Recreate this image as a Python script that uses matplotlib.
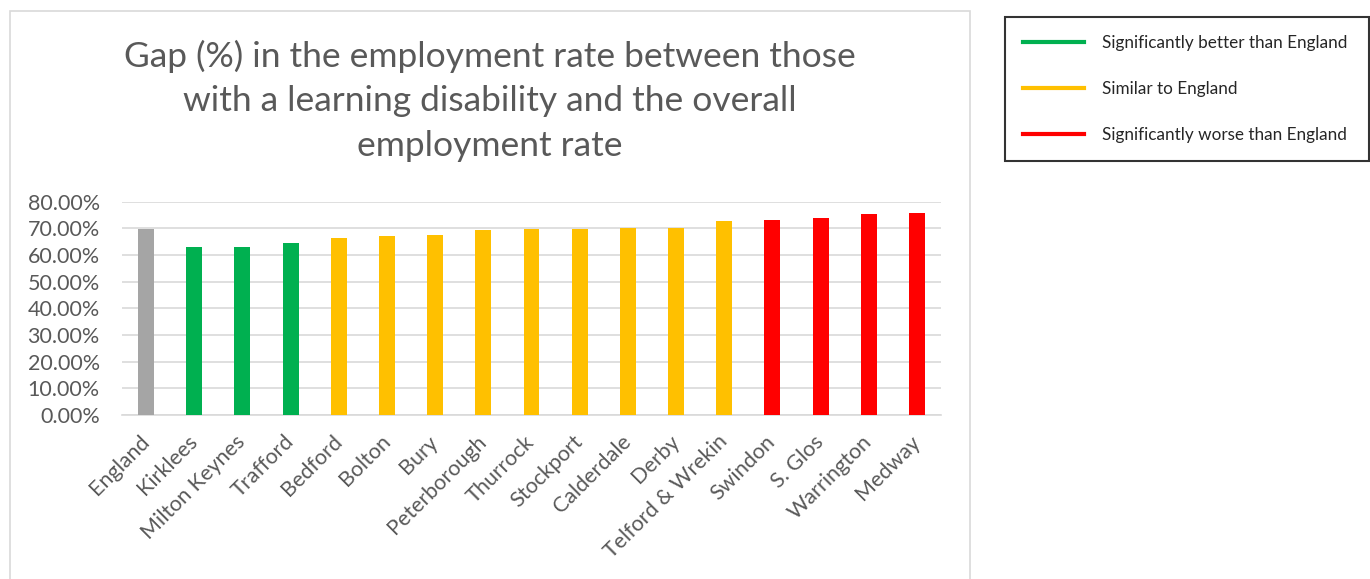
import matplotlib
matplotlib.use("Agg")
import matplotlib.pyplot as plt
from matplotlib.lines import Line2D
from matplotlib.patches import Rectangle
from matplotlib.ticker import PercentFormatter, MultipleLocator

plt.rcParams['font.family'] = ['Lato', 'DejaVu Sans']

# Employment rate gap by area (fraction), ordered low to high after England
areas = ["England", "Kirklees", "Milton Keynes", "Trafford", "Bedford", "Bolton",
         "Bury", "Peterborough", "Thurrock", "Stockport", "Calderdale", "Derby",
         "Telford & Wrekin", "Swindon", "S. Glos", "Warrington", "Medway"]
gap = [0.6975, 0.630, 0.630, 0.645, 0.664, 0.671, 0.675, 0.694, 0.6975,
       0.6975, 0.701, 0.701, 0.7275, 0.731, 0.739, 0.754, 0.7575]
# comparison with England: ref / better / similar / worse
status = ["ref", "better", "better", "better", "similar", "similar", "similar",
          "similar", "similar", "similar", "similar", "similar", "similar",
          "worse", "worse", "worse", "worse"]

colours = {"ref": "#a5a5a5", "better": "#00b050", "similar": "#ffc000", "worse": "#ff0000"}
legend_labels = {"better": "Significantly better than England",
                 "similar": "Similar to England",
                 "worse": "Significantly worse than England"}

W, H = 1370, 579
fig = plt.figure(figsize=(W / 100, H / 100), dpi=100)

# outer chart frame
fig.patches.append(Rectangle((10 / W, -0.05), 960 / W, 1.05 - 11 / H,
                             transform=fig.transFigure, fill=False,
                             edgecolor="#d9d9d9", linewidth=1.2))

ax = fig.add_axes([122 / W, 1 - 415 / H, 819 / W, 213.3 / H])
x = range(len(areas))
ax.bar(x, gap, width=0.33, color=[colours[s] for s in status], zorder=3)

ax.set_xlim(-0.5, len(areas) - 0.5)
ax.set_ylim(0, 0.8)
ax.yaxis.set_major_locator(MultipleLocator(0.1))
ax.yaxis.set_major_formatter(PercentFormatter(1.0, decimals=2))
ax.grid(axis="y", color="#d9d9d9", linewidth=1.2, zorder=0)
for side in ["top", "right", "left"]:
    ax.spines[side].set_visible(False)
ax.spines["bottom"].set_color("#d9d9d9")
ax.spines["bottom"].set_linewidth(1.2)
ax.tick_params(axis="both", length=0, labelsize=15.5, labelcolor="#595959")
ax.tick_params(axis="y", pad=16)
ax.set_xticks(list(x))
ax.set_xticklabels(areas, rotation=45, ha="right", va="center",
                   rotation_mode="anchor")
ax.tick_params(axis="x", pad=17)

fig.text(490 / W, 1 - 40 / H,
         "Gap (%) in the employment rate between those\n"
         "with a learning disability and the overall\n"
         "employment rate",
         ha="center", va="top", fontsize=25.5, color="#595959",
         fontweight="normal", linespacing=1.47)

handles = [Line2D([], [], color=colours[k], linewidth=3) for k in legend_labels]
leg = fig.legend(handles, list(legend_labels.values()), loc="upper left",
                 bbox_to_anchor=(1005 / W, 1 - 23 / H, 364 / W, 0.01),
                 mode="expand", borderaxespad=0, fontsize=12.3,
                 handlelength=3.6, handletextpad=1.0, labelspacing=1.75,
                 borderpad=1.05, fancybox=False, frameon=True)
leg.get_frame().set_edgecolor("black")
leg.get_frame().set_linewidth(1.5)
for t in leg.get_texts():
    t.set_color("#262626")

fig.savefig("out.png", dpi=100)
